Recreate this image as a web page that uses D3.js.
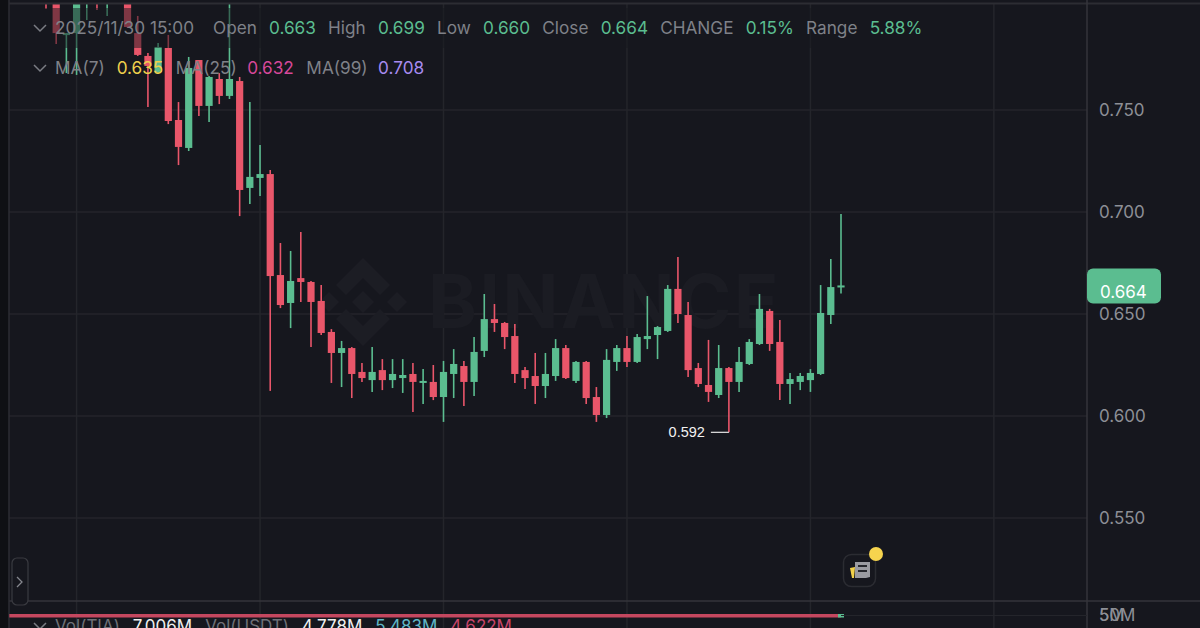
<!DOCTYPE html>
<meta charset="utf-8">
<style>
  html, body { margin: 0; background: #16171e; }
  text { font-family: Inter, "Noto Sans", sans-serif; }
</style>
<script src="https://d3js.org/d3.v7.min.js"></script>
<div id="chart"></div>
<script>

// candles, one per 15 minutes or so
// the first ones run off the top of the pane and get clipped
var opens = [.8088,.8088,.7868,.7877,.8034,.8069,.8029,.8137,.8059,.7877,.7765,.7686,.7804,.7451,.7314,.7745,.752,.7652,.7569,.7642,
  .7118,.7167,.7186,.6691,.6554,.6676,.6657,.6564,.6412,.6309,.6333,.6216,.6176,.6225,.6176,.6186,.6206,.6162,.6167,.6093,
  .6206,.6245,.6167,.6319,.6475,.6456,.6392,.6225,.6196,.6147,.6196,.6333,.6172,.6265,.6093,.6005,.6265,.6333,.6265,.6377,
  .6397,.6417,.6623,.6495,.6235,.6152,.6103,.6235,.6167,.6255,.6353,.6515,.6363,.6157,.6167,.6176,.6206,.6495,.663];
var highs = [.8098,.8113,.7877,.8088,.8098,.8088,.8088,.8162,.8078,.7961,.7779,.7828,.7868,.7539,.776,.7745,.7667,.7681,.8064,.7662,
  .7539,.7328,.7206,.6848,.6809,.6902,.6662,.6642,.6426,.6368,.6338,.626,.6338,.6279,.6279,.6279,.626,.623,.625,.627,
  .6328,.627,.6387,.6598,.6549,.6461,.6451,.624,.6309,.6309,.6377,.6348,.627,.627,.6142,.6328,.6348,.6392,.6402,.6588,
  .6441,.6642,.6779,.6559,.626,.6373,.6348,.624,.6338,.6377,.6598,.6525,.6471,.6211,.6211,.623,.6642,.677,.699];
var lows = [.7995,.7824,.7681,.7672,.7941,.799,.7961,.8078,.7902,.7765,.7515,.7681,.7431,.723,.7299,.7471,.7441,.7529,.7554,.698,
  .7039,.7078,.6123,.6529,.6431,.6559,.6338,.6397,.6162,.6142,.6088,.6167,.6118,.6127,.6137,.6113,.602,.6059,.6078,.5971,
  .6088,.6049,.6098,.6289,.6412,.6328,.6162,.6132,.6059,.6088,.6172,.6181,.6162,.6059,.5971,.599,.6221,.624,.626,.6328,
  .6279,.6412,.6456,.6191,.6142,.6069,.6088,.592,.6118,.625,.6348,.6319,.6078,.6059,.6127,.6118,.6201,.6451,.66];
var closes = [.8029,.7877,.7877,.8064,.8078,.8034,.8069,.8098,.7907,.777,.7716,.7809,.7446,.7319,.7706,.752,.7662,.7569,.7652,.7108,
  .7172,.7186,.6686,.6544,.6662,.6657,.6559,.6407,.6309,.6333,.6206,.6186,.6216,.6176,.6206,.6201,.6167,.6172,.6093,.6216,
  .6255,.6167,.6314,.6475,.6456,.6387,.6206,.6186,.6147,.6206,.6333,.6186,.6265,.6088,.6005,.6275,.6333,.6265,.6387,.6392,
  .6436,.6623,.65,.6225,.6157,.6118,.6235,.6167,.6265,.6363,.6525,.6353,.6157,.6181,.6196,.6211,.6505,.6632,.664];

var priceTicks = [0.55, 0.6, 0.65, 0.7, 0.75];
var volumeTicks = ["50M", "5M"];
var lastPrice = 0.664;
var lowMark = 0.592;

// header rows: label, value, colour of value
var headerLabels = ["Open", "High", "Low", "Close", "CHANGE", "Range"];
var headerValues = ["0.663", "0.699", "0.660", "0.664", "0.15%", "5.88%"];
var maLabels = ["MA(7)", "MA(25)", "MA(99)"];
var maValues = ["0.635", "0.632", "0.708"];
var maColors = ["#efd04c", "#d6489a", "#a78bf0"];
var volLabels = ["Vol(TIA)", "7.006M", "Vol(USDT)", "4.778M", "5.483M", "4.622M"];
var volColors = ["#6e7077", "#f0f0f0", "#6e7077", "#f0f0f0", "#5fb6c6", "#c9456a"];

var green = "#5bbd90", red = "#e9566a", bg = "#16171e", gridColor = "#24252b", textColor = "#7f8188";

var width = 1200, height = 628;

var svg = d3.select("#chart")
  .append("svg")
    .attr("width", width)
    .attr("height", height)
    .style("display", "block");

svg.append("rect").attr("width", width).attr("height", height).attr("fill", bg);
svg.append("rect").attr("width", 9).attr("height", height).attr("fill", "#0f1014");

// scales: x runs on candle index so the grid lands on every 18th candle
var x = d3.scaleLinear().domain([0, 78]).range([46, 841]);
var y = d3.scaleLinear().domain([0.55, 0.75]).range([518, 110]);

var defs = svg.append("defs");
defs.append("clipPath").attr("id", "pane")
  .append("rect").attr("x", 9).attr("y", 4).attr("width", 1078).attr("height", 597);

// grid
svg.append("g").selectAll("line")
  .data(priceTicks)
  .join("line")
    .attr("x1", 9).attr("x2", 1087)
    .attr("y1", function(d) { return y(d); }).attr("y2", function(d) { return y(d); })
    .attr("stroke", gridColor).attr("stroke-width", 1.5);

svg.append("g").selectAll("line")
  .data(d3.range(3, 94, 18))
  .join("line")
    .attr("x1", function(d) { return x(d); }).attr("x2", function(d) { return x(d); })
    .attr("y1", 4).attr("y2", 628)
    .attr("stroke", gridColor).attr("stroke-width", 1.5);

// watermark
var mark = svg.append("g").attr("transform", "translate(363,302)").attr("fill", "#1c1d24");
mark.append("path").attr("d", "M0,-44 L27,-17 L17,-7 L0,-24 L-17,-7 L-27,-17 Z");
mark.append("path").attr("d", "M0,44 L27,17 L17,7 L0,24 L-17,7 L-27,17 Z");
mark.append("path").attr("d", "M0,-11 L11,0 L0,11 L-11,0 Z");
mark.append("path").attr("d", "M-34,-10 L-24,0 L-34,10 L-44,0 Z");
mark.append("path").attr("d", "M34,-10 L44,0 L34,10 L24,0 Z");
svg.append("text")
  .attr("x", 428).attr("y", 328)
  .attr("font-size", 74).attr("font-weight", 700)
  .attr("letter-spacing", 2.2)
  .attr("fill", "#1b1c23")
  .text("BINANCE");

// candles
var candles = svg.append("g").attr("clip-path", "url(#pane)");
var idx = d3.range(opens.length);
function col(i) { return closes[i] >= opens[i] ? green : red; }

candles.selectAll(".wick")
  .data(idx)
  .join("line")
    .attr("class", "wick")
    .attr("x1", function(i) { return x(i); }).attr("x2", function(i) { return x(i); })
    .attr("y1", function(i) { return y(highs[i]); })
    .attr("y2", function(i) { return y(lows[i]); })
    .attr("stroke", col).attr("stroke-width", 1.6);

candles.selectAll(".body")
  .data(idx)
  .join("rect")
    .attr("class", "body")
    .attr("x", function(i) { return x(i) - 3.6; })
    .attr("width", 7.2)
    .attr("y", function(i) { return y(Math.max(opens[i], closes[i])); })
    .attr("height", function(i) { return Math.max(2, Math.abs(y(opens[i]) - y(closes[i]))); })
    .attr("fill", col);

// the legend row sits on a see-through panel that dims what is behind it
svg.append("rect")
  .attr("x", 30).attr("y", 8).attr("width", 900).attr("height", 40)
  .attr("fill", bg).attr("opacity", 0.5);

// frame lines
svg.append("line").attr("x1", 9).attr("x2", width).attr("y1", 3.5).attr("y2", 3.5).attr("stroke", "#2c2d33").attr("stroke-width", 2);
svg.append("line").attr("x1", 9).attr("x2", width).attr("y1", 601).attr("y2", 601).attr("stroke", "#34353b").attr("stroke-width", 1.5);
svg.append("line").attr("x1", 9).attr("x2", 9).attr("y1", 0).attr("y2", height).attr("stroke", "#2c2d33").attr("stroke-width", 1.5);
svg.append("line").attr("x1", 1087).attr("x2", 1087).attr("y1", 0).attr("y2", height).attr("stroke", "#34353b").attr("stroke-width", 1.5);

// price axis
var axis = svg.append("g")
  .attr("transform", "translate(1087,0)")
  .call(d3.axisRight(y).tickValues(priceTicks).tickSize(0).tickPadding(12).tickFormat(d3.format(".3f")));
axis.select(".domain").remove();
axis.selectAll("text")
  .attr("font-family", "Inter, sans-serif")
  .attr("font-size", 17)
  .attr("fill", "#8d8f96");

// last price tag
svg.append("rect")
  .attr("x", 1087).attr("y", y(lastPrice) - 17).attr("width", 74).attr("height", 35).attr("rx", 6)
  .attr("fill", green);
svg.append("text")
  .attr("x", 1100).attr("y", y(lastPrice) + 13)
  .attr("font-size", 17).attr("fill", "#fff")
  .text(d3.format(".3f")(lastPrice));

// lowest price marker
svg.append("line")
  .attr("x1", x(67)).attr("x2", x(67) - 18)
  .attr("y1", y(lowMark)).attr("y2", y(lowMark))
  .attr("stroke", "#e8e8e8").attr("stroke-width", 1.2);
svg.append("text")
  .attr("x", x(67) - 24).attr("y", y(lowMark) + 5)
  .attr("text-anchor", "end")
  .style("font-family", "Liberation Sans, Arial, sans-serif")
  .attr("font-size", 14.5).attr("fill", "#f2f2f2")
  .text(d3.format(".3f")(lowMark));

// legend text
function chevron(cy) {
  svg.append("path")
    .attr("d", "M34," + (cy - 3) + " L40," + (cy + 3) + " L46," + (cy - 3))
    .attr("fill", "none").attr("stroke", "#7a7c83").attr("stroke-width", 1.5);
}
chevron(28);
chevron(68);

var row1 = svg.append("text").attr("x", 55).attr("y", 34).attr("font-size", 17.2).attr("fill", textColor);
row1.append("tspan").text("2025/11/30 15:00");
headerLabels.forEach(function(label, i) {
  row1.append("tspan").attr("dx", i ? 12.2 : 19).text(label);
  row1.append("tspan").attr("dx", 12.2).attr("fill", green).text(headerValues[i]);
});

var row2 = svg.append("text").attr("x", 55).attr("y", 74).attr("font-size", 17.2).attr("fill", textColor);
maLabels.forEach(function(label, i) {
  row2.append("tspan").attr("dx", i ? 12.5 : 0).text(label);
  row2.append("tspan").attr("dx", i ? 10.5 : 12).attr("fill", maColors[i]).text(maValues[i]);
});

// volume pane squeezed down to a strip, with its legend cut by the window edge
svg.append("rect")
  .attr("x", x(-3.6)).attr("y", 614).attr("width", x(78) - x(-3.6)).attr("height", 3.5)
  .attr("fill", "#c4475f");
svg.append("rect")
  .attr("x", x(78) - 3).attr("y", 614).attr("width", 6).attr("height", 3.5)
  .attr("fill", green);
svg.append("line").attr("x1", x(78)).attr("x2", 1087).attr("y1", 615.5).attr("y2", 615.5).attr("stroke", gridColor);

chevron(626);
var row3 = svg.append("text").attr("x", 55).attr("y", 632).attr("font-size", 17);
volLabels.forEach(function(label, i) {
  row3.append("tspan").attr("dx", i ? 13 : 0).attr("fill", volColors[i]).text(label);
});

svg.append("g").selectAll("text")
  .data(volumeTicks)
  .join("text")
    .attr("x", 1099).attr("y", 621)
    .attr("font-size", 17).attr("fill", "#8d8f96")
    .text(function(d) { return d; });

// collapse handle on the left
svg.append("rect")
  .attr("x", 12).attr("y", 558).attr("width", 16).attr("height", 47).attr("rx", 5)
  .attr("fill", bg).attr("stroke", "#3a3b41").attr("stroke-width", 1.2);
svg.append("path")
  .attr("d", "M17,577 L22,582 L17,587")
  .attr("fill", "none").attr("stroke", "#85878e").attr("stroke-width", 1.3);

// news button
svg.append("rect")
  .attr("x", 843.5).attr("y", 554.5).attr("width", 32).attr("height", 32).attr("rx", 8)
  .attr("fill", "none").attr("stroke", "#2b2c32").attr("stroke-width", 1.5);
svg.append("path").attr("d", "M855,562 L870,562 L870,577 L866,578 L855,578 Z").attr("fill", "#9a9ba1");
svg.append("path").attr("d", "M858,566 H867 M858,571 H867").attr("stroke", "#26272d").attr("stroke-width", 2);
svg.append("path").attr("d", "M850,568 L855,567 L854,578 L852,578 Z").attr("fill", "#f1d14a");
svg.append("circle").attr("cx", 876).attr("cy", 554).attr("r", 7).attr("fill", "#f6d44e");

</script>
